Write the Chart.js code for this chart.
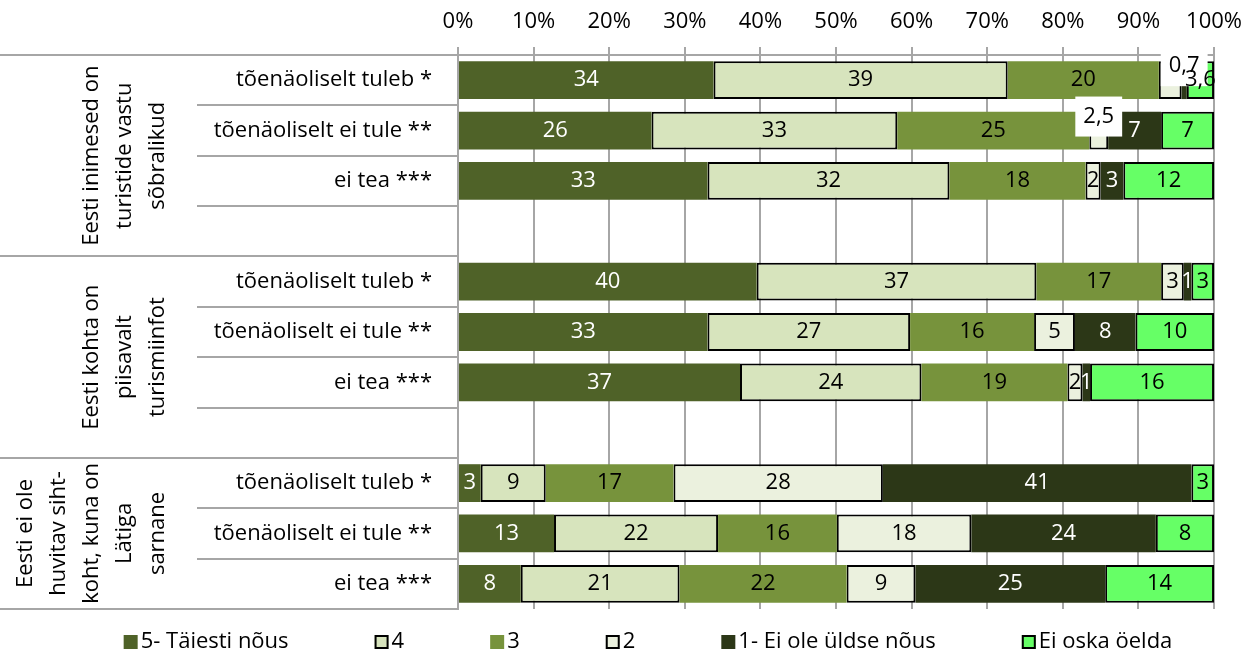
<!DOCTYPE html>
<html>
<head>
<meta charset="utf-8">
<script src="https://cdn.jsdelivr.net/npm/chart.js@4.4.0/dist/chart.umd.min.js"></script>
<style>
  html, body { margin: 0; padding: 0; background: #fff; }
</style>
</head>
<body>
<canvas id="chart" width="1254" height="658"></canvas>
<script>
// rows of the chart (empty rows separate the groups)
var rows = ["tõenäoliselt tuleb *", "tõenäoliselt ei tule **", "ei tea ***", "",
            "tõenäoliselt tuleb *", "tõenäoliselt ei tule **", "ei tea ***", "",
            "tõenäoliselt tuleb *", "tõenäoliselt ei tule **", "ei tea ***"];

var groups = [
    ["Eesti inimesed on", "turistide vastu", "sõbralikud"],
    ["Eesti kohta on", "piisavalt", "turismiinfot"],
    ["Eesti ei ole", "huvitav siht-", "koht, kuna on", "Lätiga", "sarnane"]
];
var groupRows = [[0, 3], [4, 7], [8, 10]];

var seriesNames = ["5- Täiesti nõus", "4", "3", "2", "1- Ei ole üldse nõus", "Ei oska öelda"];

var s5 = [33.8, 25.6, 33, null, 39.5, 33, 37.3, null, 3, 12.7, 8.3];
var s4 = [38.9, 32.5, 32, null, 37, 26.8, 24, null, 8.6, 21.7, 21];
var s3 = [20, 25.4, 18, null, 16.5, 16.4, 19.3, null, 16.9, 15.7, 22.1];
var s2 = [3, 2.5, 2, null, 3, 5.4, 2, null, 27.7, 17.8, 9.1];
var s1 = [0.7, 7, 3, null, 1, 8, 1, null, 40.8, 24.4, 25.1];
var s0 = [3.6, 7, 12, null, 3, 10.4, 16.4, null, 3, 7.7, 14.4];

var xTicks = [0, 10, 20, 30, 40, 50, 60, 70, 80, 90, 100];

// styles
var fillColors = ["#4F6228", "#D7E4BD", "#77933C", "#EBF1DE", "#2C3717", "#66FF66"];
var labelColors = ["#fff", "#000", "#000", "#000", "#fff", "#000"];
var bordered = [false, true, false, true, false, true];
var FONT = "'Open Sans', sans-serif";

Chart.defaults.font.family = FONT;
Chart.defaults.font.size = 22;
Chart.defaults.color = "#000";

function fmt(v) {
    return v >= 4 ? String(Math.round(v)) : String(v).replace(".", ",");
}

var allSeries = [s5, s4, s3, s2, s1, s0];
var datasets = allSeries.map(function (d, i) {
    return {
        label: seriesNames[i],
        data: d,
        backgroundColor: fillColors[i],
        borderColor: "#000",
        borderWidth: bordered[i] ? 2 : 0,
        borderSkipped: false,
        barPercentage: 0.75,
        categoryPercentage: 1
    };
});

var extras = {
    id: "extras",
    afterDatasetsDraw: function (chart) {
        var ctx = chart.ctx;
        ctx.save();
        ctx.font = "22px " + FONT;
        ctx.textAlign = "center";
        ctx.textBaseline = "middle";
        var n = chart.data.datasets.length;
        chart.data.datasets.forEach(function (ds, i) {
            var meta = chart.getDatasetMeta(i);
            meta.data.forEach(function (bar, j) {
                var v = ds.data[j];
                if (v == null) return;
                var txt = fmt(v);
                var x = (bar.x + bar.base) / 2, y = bar.y;
                var boxed = v < 4 && !Number.isInteger(v) && i < n - 1;
                if (boxed) {
                    y -= 14;
                    var w = ctx.measureText(txt).width;
                    ctx.fillStyle = "#fff";
                    ctx.fillRect(x - w / 2 - 8, y - 20, w + 16, 40);
                    ctx.fillStyle = "#000";
                } else {
                    ctx.fillStyle = labelColors[i];
                }
                ctx.fillText(txt, x, y);
            });
        });
        ctx.restore();
    },
    afterDraw: function (chart) {
        var ctx = chart.ctx, area = chart.chartArea, ys = chart.scales.y;
        ctx.save();
        // separators in the category area
        function rowEdge(i) {
            if (i < 0) return area.top;
            if (i >= rows.length - 1) return area.bottom;
            return (ys.getPixelForValue(i) + ys.getPixelForValue(i + 1)) / 2;
        }
        ctx.strokeStyle = "#a6a6a6";
        ctx.lineWidth = 2;
        for (var i = -1; i < rows.length; i++) {
            var y = Math.round(rowEdge(i));
            var full = i === -1 || groupRows.some(function (g) { return g[1] === i; });
            ctx.beginPath();
            ctx.moveTo(full ? 0 : 197, y);
            ctx.lineTo(area.left, y);
            ctx.stroke();
        }
        // rotated group labels
        ctx.fillStyle = "#000";
        ctx.font = "22px " + FONT;
        ctx.textAlign = "center";
        ctx.textBaseline = "middle";
        groups.forEach(function (lines, g) {
            var cy = (rowEdge(groupRows[g][0] - 1) + rowEdge(groupRows[g][1])) / 2;
            ctx.save();
            ctx.translate(158, cy);
            ctx.rotate(-Math.PI / 2);
            lines.forEach(function (t, k) {
                ctx.fillText(t, 0, (k - (lines.length - 1)) * 33);
            });
            ctx.restore();
        });
        // legend
        var gap = 86, box = 14, pad = 3;
        var widths = seriesNames.map(function (t) { return box + pad + ctx.measureText(t).width; });
        var total = widths.reduce(function (a, b) { return a + b; }, 0) + gap * (widths.length - 1);
        var lx = 648 - total / 2, ly = 642;
        ctx.textAlign = "left";
        seriesNames.forEach(function (t, k) {
            ctx.fillStyle = fillColors[k];
            ctx.fillRect(lx, ly - 7, box, box);
            if (bordered[k]) {
                ctx.strokeStyle = "#000";
                ctx.lineWidth = 2;
                ctx.strokeRect(lx + 1, ly - 6, box - 2, box - 2);
            }
            ctx.fillStyle = "#000";
            ctx.fillText(t, lx + box + pad, ly);
            lx += widths[k] + gap;
        });
        ctx.restore();
    }
};

new Chart(document.getElementById("chart"), {
    type: "bar",
    data: { labels: rows, datasets: datasets },
    options: {
        indexAxis: "y",
        responsive: false,
        animation: false,
        devicePixelRatio: 1,
        layout: { padding: { left: 0, right: 39, top: 0, bottom: 49 } },
        plugins: { legend: { display: false }, tooltip: { enabled: false } },
        scales: {
            x: {
                position: "top",
                stacked: true,
                min: 0,
                max: 100,
                afterBuildTicks: function (s) { s.ticks = xTicks.map(function (v) { return { value: v }; }); },
                ticks: {
                    callback: function (v) { return v + "%"; },
                    padding: 12,
                    maxRotation: 0,
                    autoSkip: false
                },
                grid: { color: "#a6a6a6", lineWidth: 2, tickLength: 8 },
                border: { color: "#a6a6a6", width: 2 },
                afterFit: function (s) { s.height = 55; }
            },
            y: {
                stacked: true,
                ticks: { padding: 18, autoSkip: false },
                grid: { display: false },
                border: { display: true, color: "#a6a6a6", width: 2 },
                afterFit: function (s) { s.width = 458; }
            }
        }
    },
    plugins: [extras]
});
</script>
</body>
</html>
